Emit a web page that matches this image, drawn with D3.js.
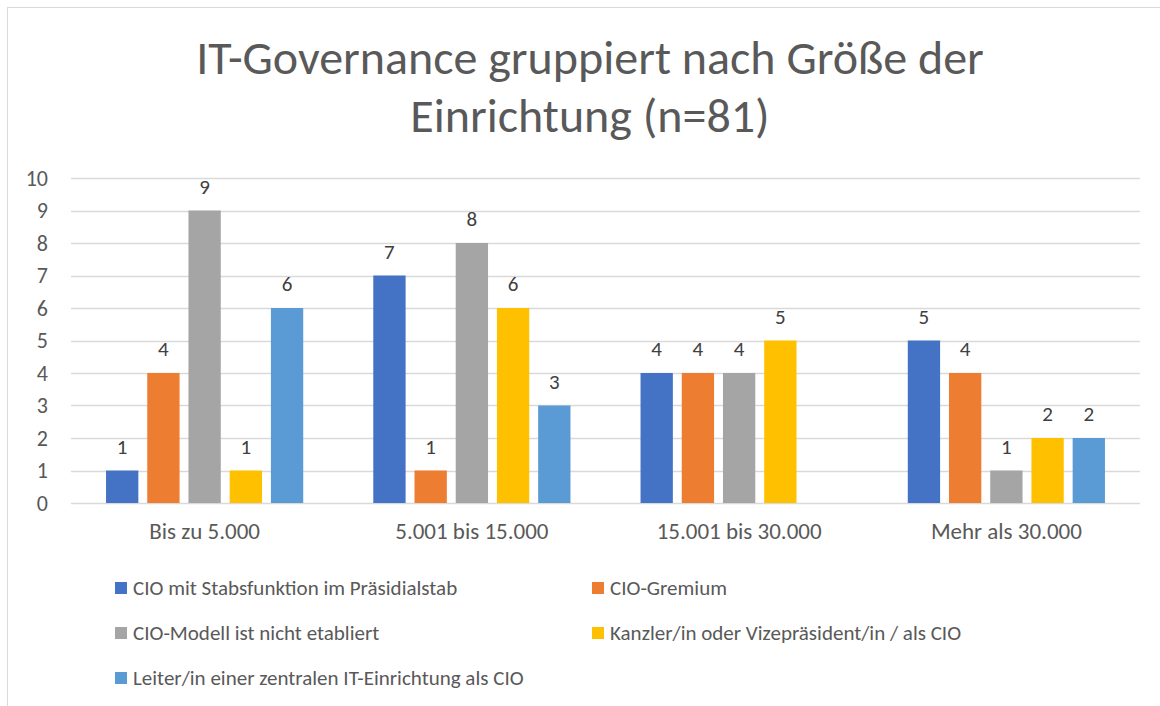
<!DOCTYPE html>
<html>
<head>
<meta charset="utf-8">
<script src="https://cdn.jsdelivr.net/npm/d3@7"></script>
<style>
  body { margin: 0; background: #fff; }
  svg { display: block; font-family: Carlito, Lato, "Open Sans", sans-serif; }
</style>
</head>
<body>
<svg id="chart" width="1160" height="706"></svg>
<script>
// data
var categories = ["Bis zu 5.000", "5.001 bis 15.000", "15.001 bis 30.000", "Mehr als 30.000"];
var seriesNames = [
  "CIO mit Stabsfunktion im Präsidialstab",
  "CIO-Gremium",
  "CIO-Modell ist nicht etabliert",
  "Kanzler/in oder Vizepräsident/in / als CIO",
  "Leiter/in einer zentralen IT-Einrichtung als CIO"
];
var cioStab     = [1, 7, 4, 5];
var cioGremium  = [4, 1, 4, 4];
var nichtEtabl  = [9, 8, 4, 1];
var kanzler     = [1, 6, 5, 2];
var leiterIT    = [6, 3, null, 2];
var yTicks = [0, 1, 2, 3, 4, 5, 6, 7, 8, 9, 10];
var titleLines = ["IT-Governance gruppiert nach Größe der", "Einrichtung (n=81)"];

var colors = ["#4472C4", "#ED7D31", "#A5A5A5", "#FFC000", "#5B9BD5"];
var seriesValues = [cioStab, cioGremium, nichtEtabl, kanzler, leiterIT];

var svg = d3.select("#chart");

// chart frame
svg.append("rect")
    .attr("x", 7.5).attr("y", 7.5)
    .attr("width", 1160).attr("height", 720)
    .attr("fill", "none")
    .attr("stroke", "#D9D9D9");

// title
svg.append("g").selectAll("text")
    .data(titleLines)
    .enter().append("text")
    .attr("x", 590)
    .attr("y", function(d, i) { return 74 + i * 58; })
    .attr("text-anchor", "middle")
    .style("font-size", "48px")
    .style("font-weight", 300)
    .style("fill", "#595959")
    .text(function(d) { return d; });

var margin = {left: 71, right: 1140, top: 178, bottom: 503};

var x0 = d3.scaleBand().domain(categories).range([margin.left, margin.right]);
var x1 = d3.scaleBand().domain(d3.range(seriesNames.length))
    .range([0, x0.bandwidth()])
    .paddingInner(0.216)
    .paddingOuter(0.85);
var y = d3.scaleLinear().domain([0, 10]).range([margin.bottom, margin.top]);

// gridlines
svg.append("g").selectAll("line")
    .data(yTicks)
    .enter().append("line")
    .attr("x1", margin.left).attr("x2", margin.right)
    .attr("y1", function(d) { return Math.round(y(d)) + 0.5; })
    .attr("y2", function(d) { return Math.round(y(d)) + 0.5; })
    .attr("stroke", "#D9D9D9")
    .attr("stroke-width", 1.5);

// y axis labels
var yAxis = svg.append("g")
    .attr("transform", "translate(" + (margin.left - 10) + ",0)")
    .call(d3.axisLeft(y).tickValues(yTicks).tickSize(0).tickPadding(13));
yAxis.select(".domain").remove();
yAxis.selectAll("text")
    .style("font-size", "22px")
    .style("font-family", "Carlito, Lato, 'Open Sans', sans-serif")
    .style("fill", "#595959");

// x axis labels
var xAxis = svg.append("g")
    .attr("transform", "translate(0," + margin.bottom + ")")
    .call(d3.axisBottom(x0).tickSize(0).tickPadding(20));
xAxis.select(".domain").remove();
xAxis.selectAll("text")
    .style("font-size", "23px")
    .style("font-family", "Carlito, Lato, 'Open Sans', sans-serif")
    .style("fill", "#595959");

// bars
var groups = svg.append("g").selectAll("g")
    .data(categories)
    .enter().append("g")
    .attr("transform", function(d) { return "translate(" + x0(d) + ",0)"; });

var cells = groups.selectAll("g")
    .data(function(d, ci) {
      return seriesValues.map(function(vals, si) { return {s: si, v: vals[ci]}; });
    })
    .enter().append("g")
    .filter(function(d) { return d.v != null; });

cells.append("rect")
    .attr("x", function(d) { return x1(d.s); })
    .attr("width", x1.bandwidth())
    .attr("y", function(d) { return y(d.v); })
    .attr("height", function(d) { return y(0) - y(d.v); })
    .attr("fill", function(d) { return colors[d.s]; });

cells.append("text")
    .attr("x", function(d) { return x1(d.s) + x1.bandwidth() / 2; })
    .attr("y", function(d) { return y(d.v) - 17; })
    .attr("text-anchor", "middle")
    .style("font-size", "21px")
    .style("fill", "#404040")
    .text(function(d) { return d.v; });

// legend
var legendPos = [[115, 588], [592, 588], [115, 633], [592, 633], [115, 678]];
var legend = svg.append("g").selectAll("g")
    .data(seriesNames)
    .enter().append("g")
    .attr("transform", function(d, i) { return "translate(" + legendPos[i][0] + "," + legendPos[i][1] + ")"; });

legend.append("rect")
    .attr("x", 0).attr("y", -6)
    .attr("width", 12).attr("height", 12)
    .attr("fill", function(d, i) { return colors[i]; });

legend.append("text")
    .attr("x", 18)
    .attr("dy", "0.35em")
    .style("font-size", "21px")
    .style("fill", "#595959")
    .text(function(d) { return d; });
</script>
</body>
</html>
